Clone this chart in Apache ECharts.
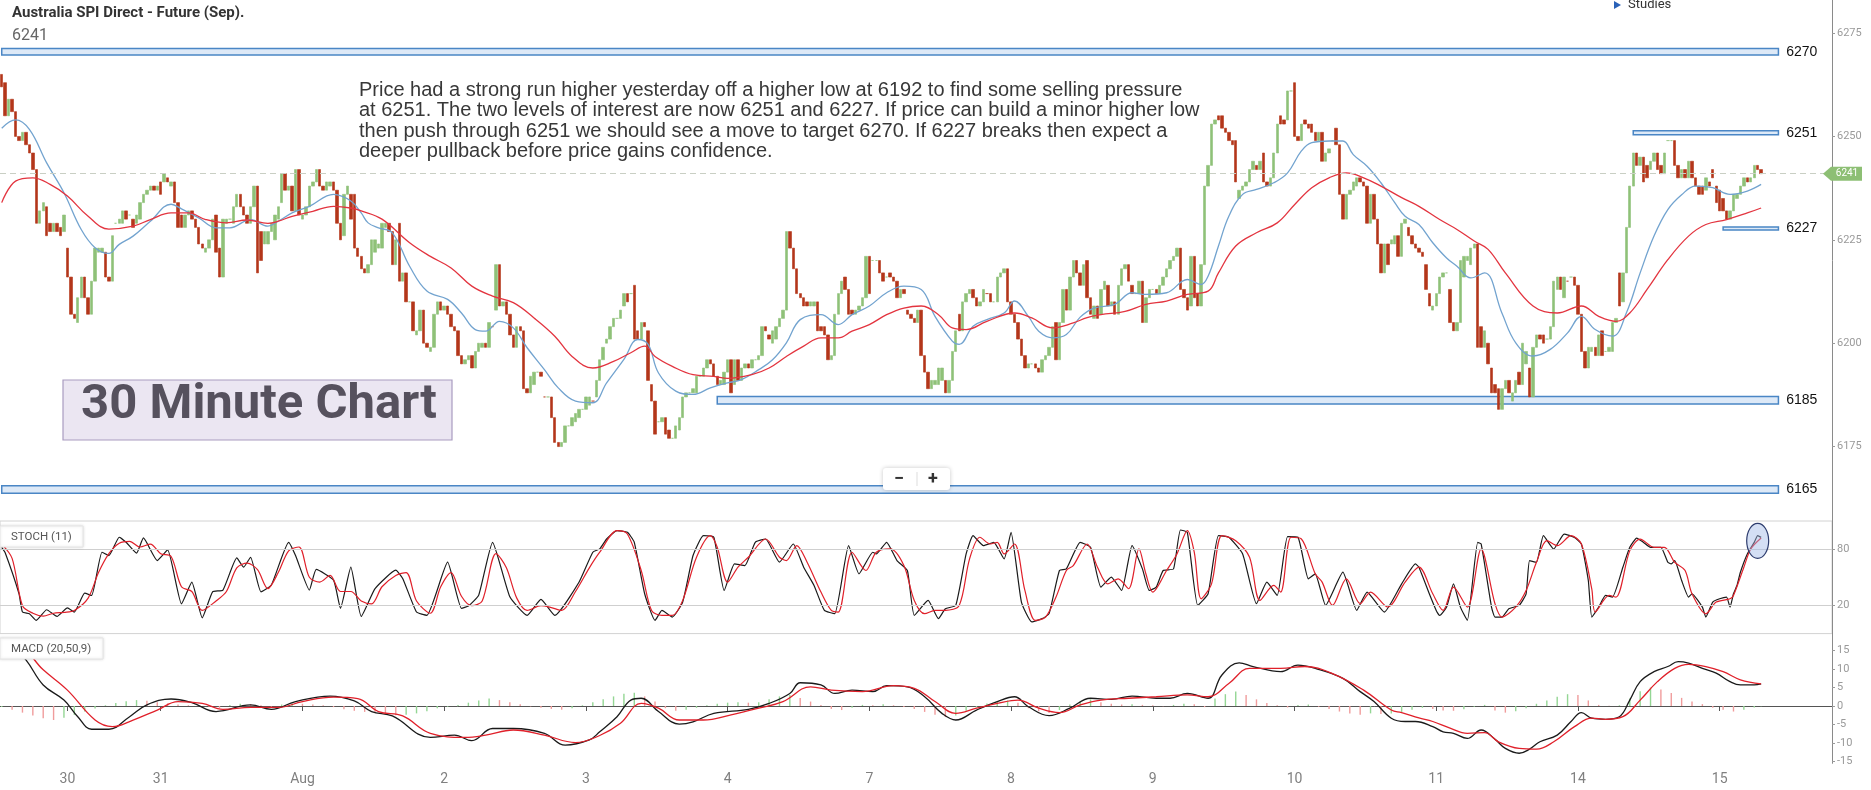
<!DOCTYPE html>
<html><head><meta charset="utf-8">
<script src="https://cdn.jsdelivr.net/npm/echarts@6/dist/echarts.min.js"></script>
<style>html,body{margin:0;padding:0;background:#fff}#c{width:1871px;height:790px}</style>
</head><body><div id="c"></div>
<script>
// ---- price bars: [open, close, low, high] (30 minute bars) ----
const candles = [
[6265,6262,6261,6266],[6263,6255,6254,6265],[6255,6259,6254,6260],[6259,6256,6255,6261],[6256,6250,6248,6257],
[6250,6249,6248,6252],[6249,6251,6247,6253],[6251,6248,6246,6252],[6248,6246,6245,6249],[6246,6242,6241,6247],
[6242,6229,6228,6243],[6229,6232,6225,6234],[6232,6234,6231,6235],[6233,6226,6225,6234],[6229,6227,6225,6230],
[6227,6229,6226,6231],[6229,6227,6225,6231],[6228,6226,6225,6230],[6227,6231,6226,6232],[6223,6216,6215,6223],
[6216,6207,6202,6217],[6207,6206,6202,6209],[6205,6211,6202,6215],[6211,6216,6209,6218],[6216,6211,6209,6217],
[6211,6207,6206,6212],[6207,6215,6206,6216],[6215,6223,6213,6224],[6222,6223,6220,6224],[6222,6223,6221,6224],
[6222,6216,6215,6223],[6216,6215,6214,6217],[6215,6226,6214,6227],[6229,6229,6228,6231],[6229,6230,6228,6232],
[6229,6232,6228,6234],[6232,6230,6229,6233],[6231,6231,6230,6233],[6230,6228,6227,6231],[6229,6231,6228,6233],
[6230,6234,6229,6236],[6234,6236,6233,6238],[6236,6237,6235,6239],[6237,6238,6236,6241],[6238,6237,6236,6239],
[6237,6238,6235,6239],[6239,6236,6234,6240],[6239,6241,6237,6242],[6240,6239,6237,6241],[6238,6239,6237,6240],
[6239,6234,6233,6240],[6234,6228,6227,6235],[6231,6228,6224,6232],[6228,6231,6227,6232],[6231,6232,6230,6233],
[6232,6230,6229,6233],[6230,6228,6227,6231],[6228,6224,6223,6229],[6224,6223,6222,6225],[6222,6223,6221,6224],
[6223,6225,6222,6226],[6225,6230,6224,6231],[6231,6222,6216,6243],[6223,6216,6213,6224],[6216,6230,6213,6231],
[6229,6230,6220,6231],[6230,6230,6229,6232],[6229,6233,6228,6234],[6233,6236,6232,6238],[6236,6233,6232,6237],
[6233,6231,6230,6234],[6231,6229,6226,6232],[6229,6233,6228,6234],[6233,6238,6232,6239],[6238,6217,6216,6239],
[6227,6220,6218,6228],[6224,6227,6223,6228],[6224,6227,6223,6230],[6227,6229,6226,6230],[6225,6231,6224,6232],
[6230,6233,6229,6234],[6234,6241,6233,6242],[6241,6237,6236,6242],[6237,6238,6236,6239],[6238,6232,6231,6239],
[6232,6242,6231,6247],[6242,6231,6230,6247],[6230,6231,6229,6232],[6231,6233,6230,6234],[6233,6238,6232,6239],
[6238,6239,6237,6241],[6239,6242,6238,6243],[6242,6238,6237,6243],[6238,6237,6236,6239],[6237,6239,6236,6240],
[6238,6239,6237,6240],[6239,6237,6236,6240],[6237,6229,6228,6238],[6229,6225,6224,6230],[6226,6236,6225,6237],
[6236,6238,6235,6239],[6236,6230,6229,6242],[6236,6223,6222,6242],[6223,6221,6220,6224],[6221,6218,6215,6222],
[6218,6217,6210,6219],
[6217,6219,6211,6220],[6219,6225,6217,6226],[6222,6225,6220,6227],[6223,6224,6222,6226],[6223,6229,6222,6230],
[6228,6229,6226,6231],[6229,6227,6225,6230],[6227,6219,6217,6228],[6219,6225,6218,6226],[6229,6215,6214,6230],
[6215,6217,6214,6218],[6217,6210,6209,6218],[6210,6210,6208,6211],[6210,6203,6202,6211],[6202,6203,6201,6204],
[6203,6208,6202,6209],[6208,6200,6199,6209],[6200,6199,6198,6201],[6198,6199,6197,6200],[6199,6207,6198,6208],
[6207,6210,6206,6211],[6210,6208,6207,6213],[6208,6209,6207,6210],[6209,6207,6206,6210],[6207,6204,6202,6208],
[6204,6203,6202,6205],[6203,6197,6196,6204],[6197,6195,6194,6198],[6195,6196,6193,6197],[6196,6197,6195,6199],
[6197,6194,6193,6198],[6194,6198,6193,6199],[6198,6200,6197,6201],[6199,6200,6198,6201],[6200,6199,6198,6202],
[6199,6205,6198,6206],[6204,6204,6203,6208],[6208,6219,6207,6220],[6219,6209,6208,6222],[6209,6210,6208,6211],
[6210,6207,6206,6214],[6207,6202,6201,6208],[6202,6199,6196,6203],[6199,6204,6198,6205],[6204,6203,6202,6205],
[6203,6189,6188,6204],[6189,6188,6186,6190],[6188,6192,6186,6193],[6190,6193,6189,6194],[6193,6193,6192,6194],
[6193,6192,6190,6194],[6187,6187,6184,6190],[6187,6187,6185,6188],[6187,6182,6181,6188],[6182,6176,6175,6183],
[6176,6175,6173,6177],[6175,6176,6173,6177],[6176,6180,6175,6181],[6180,6180,6178,6182],[6180,6182,6179,6184],
[6181,6183,6180,6184],[6182,6184,6178,6186],[6184,6184,6183,6186],[6184,6187,6183,6189],[6185,6187,6184,6190],
[6186,6186,6184,6188],[6187,6191,6186,6192],[6191,6196,6190,6197],[6196,6199,6195,6200],[6200,6201,6199,6202],
[6201,6204,6200,6205],[6204,6206,6203,6207],[6206,6206,6205,6207],[6206,6208,6205,6209],[6209,6212,6208,6213],
[6212,6210,6209,6214],[6212,6212,6210,6218],[6214,6201,6200,6219],[6203,6201,6200,6204],[6201,6205,6200,6211],
[6205,6204,6203,6206],[6203,6191,6188,6205],[6190,6186,6185,6191],[6186,6178,6177,6187],[6181,6181,6179,6183],
[6181,6182,6180,6184],[6182,6178,6177,6183],[6179,6177,6176,6180],[6177,6177,6175,6178],[6177,6180,6175,6181],
[6179,6182,6176,6183],[6182,6187,6181,6188],[6187,6188,6186,6189],[6188,6188,6186,6190],[6188,6189,6187,6190],
[6188,6192,6187,6193],[6192,6192,6190,6193],[6192,6194,6191,6195],[6194,6196,6193,6198],[6196,6195,6194,6198],
[6195,6192,6190,6196],[6192,6190,6188,6193],[6190,6191,6187,6193],[6190,6193,6188,6194],[6193,6196,6192,6197],
[6196,6188,6187,6197],[6190,6196,6189,6197],[6196,6191,6190,6197],[6191,6194,6190,6195],[6194,6195,6193,6197],
[6195,6194,6193,6196],[6194,6196,6193,6197],[6196,6196,6195,6198],[6196,6197,6195,6198],[6197,6204,6196,6206],
[6204,6203,6202,6206],[6202,6201,6200,6203],[6200,6203,6189,6204],[6201,6204,6200,6205],[6204,6206,6203,6207],
[6206,6208,6205,6210],[6208,6227,6207,6228],[6227,6223,6222,6230],[6223,6218,6217,6226],[6218,6212,6211,6219],
[6212,6211,6210,6213],[6211,6209,6208,6212],[6210,6209,6207,6211],[6209,6210,6208,6212],[6209,6210,6209,6216],
[6210,6203,6202,6211],[6204,6203,6199,6206],[6204,6202,6199,6205],[6202,6196,6195,6203],[6196,6197,6194,6198],
[6197,6207,6196,6208],[6207,6212,6206,6213],[6212,6215,6211,6218],[6216,6213,6212,6217],[6213,6207,6206,6214],
[6208,6207,6205,6209],[6207,6208,6206,6209],[6208,6209,6207,6210],[6209,6211,6208,6212],[6211,6221,6210,6222],
[6221,6212,6211,6222],[6220,6220,6219,6223],[6220,6220,6219,6222],[6220,6217,6216,6221],[6217,6215,6214,6218],
[6216,6216,6215,6217],[6217,6216,6215,6218],[6216,6215,6214,6217],[6215,6211,6210,6216],[6211,6213,6210,6214],
[6213,6212,6211,6214],[6208,6207,6206,6209],[6207,6206,6204,6208],[6206,6205,6201,6207],[6205,6208,6204,6210],
[6208,6197,6196,6209],[6197,6193,6192,6198],[6193,6189,6186,6194],[6189,6191,6186,6192],[6190,6191,6189,6193],
[6190,6194,6189,6195],[6191,6194,6190,6196],[6191,6188,6187,6192],[6188,6191,6187,6193],[6191,6198,6190,6199],
[6198,6203,6197,6205],[6207,6203,6201,6210],[6203,6210,6202,6211],[6210,6212,6209,6214],[6212,6213,6211,6215],
[6213,6211,6210,6214],[6211,6209,6208,6212],[6209,6210,6208,6211],[6210,6213,6209,6214],[6212,6212,6211,6214],
[6212,6210,6209,6213],[6210,6210,6209,6211],[6210,6216,6209,6217],[6216,6217,6215,6219],[6217,6218,6216,6221],
[6218,6210,6209,6219],[6210,6207,6206,6211],[6207,6205,6200,6208],[6205,6201,6200,6206],[6201,6197,6196,6202],
[6197,6194,6193,6198],[6194,6195,6193,6196],[6195,6195,6194,6196],[6195,6194,6193,6196],[6194,6193,6192,6195],
[6193,6196,6192,6197],[6196,6197,6195,6198],[6197,6199,6196,6200],[6199,6204,6198,6213],[6205,6196,6192,6207],
[6196,6205,6195,6206],[6205,6213,6204,6216],[6213,6208,6206,6214],[6208,6216,6207,6217],[6216,6220,6215,6222],
[6220,6217,6216,6221],[6217,6214,6213,6218],[6214,6219,6213,6220],
[6220,6211,6210,6221],[6211,6207,6203,6212],[6206,6209,6204,6210],[6209,6206,6204,6210],[6207,6213,6206,6215],
[6213,6215,6212,6216],[6214,6209,6208,6215],[6209,6210,6208,6211],[6210,6207,6206,6211],[6207,6214,6206,6215],
[6214,6218,6213,6220],[6218,6219,6217,6220],[6219,6215,6214,6220],[6214,6212,6211,6215],[6212,6212,6210,6213],
[6212,6215,6211,6216],[6215,6205,6204,6216],[6205,6211,6204,6212],[6211,6213,6210,6214],[6213,6213,6212,6214],
[6213,6212,6211,6214],[6212,6214,6211,6215],[6214,6216,6213,6217],[6216,6218,6215,6219],[6218,6220,6217,6221],
[6220,6221,6219,6222],[6221,6223,6220,6224],[6223,6213,6212,6224],[6213,6211,6210,6214],[6211,6208,6207,6212],
[6209,6221,6208,6227],[6221,6211,6210,6227],[6212,6209,6202,6213],[6209,6219,6208,6220],[6219,6238,6218,6239],
[6238,6243,6237,6244],[6243,6253,6242,6254],[6253,6254,6252,6259],[6255,6254,6253,6258],[6255,6252,6251,6257],
[6252,6251,6250,6253],[6251,6249,6248,6252],[6249,6248,6247,6250],[6249,6239,6238,6250],[6235,6237,6234,6238],
[6237,6238,6236,6239],[6238,6239,6237,6240],[6239,6242,6238,6243],[6242,6244,6241,6245],[6243,6242,6241,6244],
[6242,6244,6241,6246],[6246,6239,6237,6248],[6239,6238,6236,6240],[6238,6240,6237,6241],[6240,6246,6239,6247],
[6246,6253,6245,6254],[6255,6253,6252,6256],[6254,6253,6252,6255],[6254,6261,6253,6262],[6261,6261,6260,6265],
[6263,6250,6249,6265],[6250,6249,6248,6251],[6249,6253,6248,6254],[6254,6253,6252,6255],[6253,6252,6251,6254],
[6253,6251,6250,6254],[6251,6249,6248,6252],[6249,6251,6248,6252],[6251,6244,6242,6252],[6244,6246,6243,6247],
[6246,6247,6245,6248],[6249,6249,6247,6258],[6252,6248,6247,6258],[6248,6236,6235,6249],[6236,6230,6227,6237],
[6230,6236,6229,6237],[6236,6237,6235,6238],[6237,6239,6236,6240],[6238,6240,6237,6241],[6240,6239,6238,6241],
[6239,6238,6237,6240],[6238,6229,6227,6239],[6229,6236,6228,6239],[6236,6230,6229,6237],[6230,6224,6223,6231],
[6224,6217,6216,6226],[6217,6224,6215,6225],[6224,6219,6218,6225],[6224,6225,6223,6226],[6224,6226,6223,6228],
[6226,6221,6220,6227],[6221,6229,6220,6230],[6229,6230,6228,6231],[6228,6226,6225,6229],[6226,6224,6223,6227],
[6224,6223,6221,6225],[6223,6222,6220,6224],[6222,6221,6219,6223],[6219,6213,6212,6220],[6212,6209,6208,6213],
[6208,6209,6206,6210],[6209,6212,6208,6213],[6212,6216,6211,6217],
[6216,6217,6215,6218],[6217,6217,6216,6218],[6213,6205,6204,6214],[6205,6203,6202,6206],[6203,6205,6202,6206],
[6205,6220,6204,6221],[6216,6221,6215,6222],[6220,6221,6219,6222],[6219,6223,6218,6224],[6223,6224,6222,6228],
[6224,6199,6198,6228],[6204,6199,6195,6205],[6199,6203,6196,6204],[6200,6195,6194,6201],[6194,6188,6187,6195],
[6190,6188,6186,6191],[6189,6184,6181,6190],[6184,6189,6182,6191],[6189,6191,6188,6192],[6191,6188,6187,6192],
[6186,6188,6181,6190],[6188,6191,6183,6192],[6193,6190,6189,6194],[6190,6200,6189,6201],[6195,6198,6194,6199],
[6194,6187,6186,6195],[6187,6199,6186,6200],[6199,6202,6198,6203],[6202,6201,6200,6203],[6202,6200,6199,6204],
[6201,6201,6200,6202],[6201,6204,6200,6205],[6204,6215,6203,6216],[6213,6216,6212,6217],[6216,6213,6212,6217],
[6211,6216,6210,6217],[6215,6215,6214,6221],[6216,6216,6215,6217],[6216,6214,6213,6217],[6214,6207,6206,6215],
[6207,6198,6197,6208],[6198,6194,6193,6199],[6194,6199,6192,6200],[6198,6199,6197,6200],[6199,6197,6196,6200],
[6197,6202,6196,6203],[6203,6197,6195,6204],[6198,6198,6194,6199],[6198,6199,6197,6200],[6198,6205,6197,6206],
[6205,6206,6204,6207],[6217,6209,6208,6218],[6210,6217,6208,6218],[6217,6228,6216,6229],[6228,6238,6227,6239],
[6238,6246,6237,6247],[6246,6243,6239,6250],[6243,6245,6237,6252],[6245,6239,6237,6253],[6243,6240,6238,6245],
[6242,6244,6238,6245],[6244,6246,6239,6247],[6246,6242,6240,6247],[6243,6241,6239,6244],[6241,6246,6240,6247],
[6249,6249,6248,6251],[6249,6249,6247,6251],[6249,6243,6242,6251],[6243,6240,6239,6244],[6240,6242,6239,6243],
[6242,6240,6239,6243],[6240,6244,6239,6245],[6244,6240,6239,6245],[6240,6238,6237,6241],[6238,6236,6235,6239],
[6238,6236,6235,6239],[6237,6240,6236,6241],[6239,6238,6237,6240],[6242,6240,6239,6242],[6238,6234,6233,6239],
[6237,6232,6230,6238],[6235,6232,6227,6236],[6232,6230,6228,6233],[6230,6232,6229,6233],[6232,6236,6231,6237],
[6235,6236,6235,6237],[6236,6238,6235,6239],[6238,6240,6237,6241],[6240,6239,6238,6241],[6239,6240,6238,6242],
[6240,6243,6239,6244],[6243,6242,6234,6244],[6242,6241,6240,6243]
];

// ---- moving averages: [bar index, value] ----
const maFast = [[0,6252],[4,6254],[8,6251.7],[13,6243.6],[18,6236.4],[23,6227.5],[27,6223.1],[31,6221.7],[34,6223.9],[38,6225.9],[43,6229.5],[49,6233.6],[52,6232.5],[57,6230.3],[62,6227.9],[66,6227.9],[72,6229.9],[77,6228.3],[80,6229.5],[84,6231.5],[89,6233.1],[96,6236],[101,6234.4],[104,6231.5],[106,6229.1],[109,6227.9],[113,6226.7],[118,6218.6],[123,6212.6],[129,6210.6],[133,6207.3],[137,6203.3],[140,6202.9],[144,6205.3],[148,6203.7],[152,6198.9],[157,6193.6],[161,6189.2],[166,6186],[171,6185.6],[175,6190.4],[180,6196.1],[184,6200.9],[187,6199.7],[190,6192.8],[195,6188.4],[200,6187.6],[205,6189.2],[210,6190.4],[214,6191.2],[219,6193.6],[223,6196],[227,6200.1],[231,6205.7],[237,6206.9],[242,6204.5],[246,6206.9],[251,6209],[256,6212.2],[261,6213.8],[266,6213],[270,6206.5],[275,6200.5],[277,6199.7],[281,6204.1],[285,6205.7],[290,6207.3],[293,6210.2],[297,6206.5],[300,6202.9],[304,6201.3],[308,6202.1],[312,6206.3],[316,6208.5],[322,6209.4],[327,6212.2],[331,6211.8],[337,6212.2],[343,6215.4],[347,6214.2],[349,6216.2],[352,6223.5],[355,6230.7],[359,6236],[363,6237.2],[368,6238.8],[372,6241.2],[376,6246.5],[379,6248.5],[384,6248.9],[388,6248.9],[391,6245.6],[395,6242.8],[399,6238.8],[403,6234],[406,6230.7],[410,6228.7],[414,6224.3],[418,6220.6],[421,6218.6],[425,6215.8],[429,6217],[434,6207.3],[438,6200.1],[443,6196.9],[448,6198.5],[453,6202.5],[457,6206.5],[461,6203.3],[466,6201.7],[470,6207.3],[474,6217],[478,6225.9],[482,6232.3],[486,6235.9],[490,6238],[495,6237.6],[500,6236],[505,6236.8],[509,6238.4]];
const maSlow = [[0,6234],[4,6239.2],[9,6240],[14,6238.4],[19,6235.6],[25,6230.7],[31,6227.6],[38,6228.3],[43,6229.9],[49,6231.5],[54,6231.5],[59,6229.9],[65,6229.1],[71,6229.8],[77,6229],[80,6229.5],[84,6230.7],[90,6231.9],[96,6233.1],[101,6232.7],[104,6232],[110,6230],[118,6224.3],[124,6221],[130,6218.2],[136,6213.8],[142,6211.4],[148,6209.8],[154,6206.1],[160,6201.7],[165,6196.8],[171,6194],[177,6195.6],[182,6197.7],[186,6199.3],[189,6196.8],[194,6194.4],[200,6192.4],[206,6192],[210,6191.5],[217,6192.4],[222,6194],[227,6196.8],[232,6199.3],[237,6201.3],[242,6201.3],[246,6202.9],[251,6204.5],[256,6206.9],[261,6208.5],[266,6209],[271,6206.9],[275,6203.7],[279,6203.3],[285,6205.3],[293,6207.3],[298,6206.1],[304,6203.7],[310,6204.9],[314,6206.2],[318,6206.9],[325,6207.7],[331,6209.4],[337,6210.2],[343,6211.8],[349,6212.6],[352,6217],[357,6223.5],[363,6226.7],[369,6229.1],[374,6233.5],[379,6237.6],[384,6240],[389,6241.2],[394,6240],[399,6238],[405,6235.2],[410,6233.1],[416,6229.9],[421,6227.5],[426,6224.7],[430,6222.7],[435,6217],[443,6209],[450,6207.3],[457,6209],[462,6206.5],[467,6205.3],[471,6207.3],[476,6213],[482,6220.2],[488,6225.9],[493,6228.7],[499,6229.9],[505,6231.5],[509,6232.7]];

// ---- stochastic (11) ----
const stochK = [[0,81.7],[1,76],[5,32.6],[6,13.3],[8,11.5],[10,4.5],[13,15.7],[16,8.6],[19,17.7],[21,13.2],[24,33.2],[26,30.8],[29,76.5],[31,73],[34,92.3],[36,87],[39,75.5],[41,91.6],[45,67.7],[48,78.9],[52,22],[55,44.8],[58,7.2],[61,34.7],[64,36.5],[68,70.5],[70,60.7],[72,71.2],[75,34.7],[78,41.8],[83,87],[85,73],[89,36.5],[91,58.3],[96,47],[98,17.2],[101,60.7],[104,8.6],[108,38],[114,57.5],[116,48.8],[120,13.3],[123,9.8],[129,66],[133,17.2],[135,19.6],[138,31.2],[142,87],[147,29.4],[152,9.8],[156,26.6],[160,9.8],[167,44.8],[171,76.5],[173,80],[175,90.5],[178,99.3],[181,97.5],[183,87],[186,32.6],[189,4.5],[191,15],[194,8],[197,23.8],[200,73],[203,94],[206,92.3],[209,36.1],[212,64.2],[215,62.4],[218,87],[221,90.5],[225,66],[229,85.2],[232,60.7],[235,41.4],[238,15],[241,11.6],[245,83.5],[248,53.7],[252,76.5],[253,74.7],[256,87],[259,67.7],[262,57.2],[264,9.8],[268,25.6],[271,6.3],[273,16.8],[276,20.3],[279,74.7],[281,94],[284,83.5],[287,87],[290,69.5],[292,97.5],[295,23.8],[298,2.8],[301,6.3],[303,11.6],[306,57.2],[308,58.9],[312,87],[315,81.7],[318,39.6],[321,50.2],[324,36.1],[327,83.5],[330,58.9],[332,36.1],[334,39.6],[336,57.2],[339,58.9],[341,100],[343,97.5],[346,20.3],[349,32.6],[352,94],[355,92.3],[359,74.7],[363,22.1],[366,44.9],[369,30.9],[372,93],[375,92.3],[378,48.4],[380,53.7],[383,20.3],[388,55.4],[392,15],[395,34.4],[400,13.3],[405,43.1],[409,64.1],[410,60.6],[413,32.6],[415,15],[416,9.7],[418,18.5],[420,43.1],[422,18.5],[424,4.5],[427,86.9],[428,85.2],[431,18.5],[432,8],[434,8],[436,16.8],[439,20.3],[441,32.6],[442,67.6],[444,65.9],[446,94],[449,79.9],[452,95.7],[455,92.2],[457,85.2],[459,46.6],[460,8],[462,18.5],[464,30.8],[466,29.1],[469,60.6],[471,81.7],[473,91.5],[475,86.9],[477,81.7],[480,81.7],[482,65.9],[483,64.1],[484,67.6],[486,46.6],[488,29.1],[489,32.6],[492,18.5],[493,8],[495,23.8],[497,27.3],[499,29.1],[500,18.5],[501,32.6],[502,41.3],[503,55.4],[505,74.7],[507,86.9],[508,94],[509,92.2]];
const stochD = [[0,85],[3,70],[6,20],[9,12],[12,9],[15,12],[18,13],[21,15],[25,28],[28,55],[31,75],[34,86],[37,88],[40,82],[43,85],[46,75],[49,72],[52,40],[55,35],[58,15],[62,25],[65,35],[68,60],[71,65],[74,58],[77,38],[80,55],[83,78],[86,82],[89,50],[92,45],[95,52],[98,35],[101,35],[104,25],[107,22],[110,40],[114,52],[117,55],[120,25],[124,12],[127,40],[130,55],[133,30],[136,20],[139,25],[143,75],[146,60],[149,28],[152,15],[156,20],[159,18],[162,15],[166,35],[170,60],[173,76.5],[178,99.3],[181,95.8],[185,57.2],[188,15],[191,9.8],[194,9.8],[197,25.6],[201,71.2],[205,94],[207,81.7],[210,44.9],[213,60.7],[216,71.2],[221,90.5],[225,71.2],[227,67.7],[230,83.5],[233,66],[237,34.4],[240,15],[242,13.3],[246,76.5],[250,57.2],[253,76.5],[257,80],[261,62.4],[264,25.6],[267,11.6],[270,15],[273,15],[277,20.3],[280,69.5],[283,92.3],[286,85.2],[288,87],[290,74.7],[293,85.2],[296,36.1],[299,4.5],[302,8],[305,29.1],[308,57.2],[310,62.4],[314,85.2],[317,60.7],[320,43.1],[323,48.4],[326,37.9],[329,80],[331,53.7],[333,34.4],[337,57.2],[340,74.7],[343,99.3],[345,76.5],[347,27.3],[350,43.1],[353,94],[357,88.7],[361,71.2],[364,25.6],[368,41.4],[370,34.4],[373,92.3],[376,90.5],[380,53.7],[382,44.9],[385,20.3],[389,48.4],[393,22.1],[396,34.4],[401,18.6],[406,44.9],[410,60.7],[414,32.6],[417,15],[420,39.6],[424,18.5],[428,79.9],[432,22],[434,8],[438,18.5],[441,36],[444,65.9],[447,88.7],[450,83.4],[454,94],[457,85.2],[460,37.8],[461,13.3],[465,30.8],[467,29.1],[471,78.2],[474,90.4],[478,81.7],[481,81.7],[484,65.9],[487,57.1],[489,32.6],[493,11.5],[496,23.8],[500,27.3],[501,30.8],[504,60.6],[506,79.9],[509,91.5]];

// ---- MACD (20,50,9) ----
const macdLine = [[0,17.2],[3,16.1],[7,12.5],[12,5.7],[18,1.6],[22,-2.9],[26,-6.3],[31,-6.3],[37,-2.9],[42,0.3],[49,1.9],[55,0.9],[62,-1.5],[72,0.3],[78,-0.9],[85,1.2],[95,2.7],[102,1.4],[107,-1.5],[113,-2.7],[124,-8.5],[131,-7.9],[136,-9.4],[142,-6.1],[148,-6.1],[157,-7.4],[163,-10.6],[170,-9.2],[173,-7],[178,-2.9],[182,1.6],[185,2.1],[190,-1.5],[196,-4.9],[200,-4.3],[206,-2],[216,-0.9],[222,0.7],[228,3.4],[231,6.3],[237,5.7],[241,3.4],[246,4.3],[252,3.9],[256,5.5],[262,5.2],[267,2.5],[272,-2],[276,-3.8],[282,-1.1],[288,1.2],[293,2.5],[297,-0.2],[303,-2.6],[309,-0.6],[315,2.1],[321,1.8],[327,2.7],[334,2.1],[338,2.1],[343,3.4],[349,2.1],[353,8.4],[358,11.7],[362,10.7],[370,9.3],[375,11.1],[380,10.2],[388,7.5],[393,3.9],[397,1.2],[402,-3.3],[406,-4.2],[409,-4.2],[414,-5.6],[417,-7],[420,-7.4],[424,-8.8],[428,-6.5],[432,-9],[435,-11.5],[439,-12.8],[442,-11.7],[445,-9.7],[450,-7.9],[454,-4.2],[457,-1.8],[460,-3.3],[464,-3.6],[468,-2.9],[471,1.6],[474,6.6],[478,9.3],[482,10.7],[485,12],[488,11.6],[492,10.2],[496,8.9],[500,6.6],[503,5.7],[507,5.7],[509,6]];
const macdSignal = [[0,16.5],[5,16.1],[12,9.8],[19,4.3],[27,-3.8],[32,-5.6],[38,-3.8],[45,-1.1],[51,1.2],[58,0.7],[64,-0.9],[72,-0.4],[80,-0.4],[87,1.2],[96,2.4],[103,2],[109,-1.5],[116,-2.7],[124,-7.4],[134,-8.5],[140,-7.9],[148,-6.5],[157,-7.9],[166,-9.9],[173,-8],[179,-4.7],[185,0.7],[190,-0.6],[196,-3.8],[203,-3.8],[211,-2.4],[219,-0.6],[226,1.2],[234,5.2],[240,4.3],[249,3.9],[258,5.5],[264,4.8],[270,1.2],[276,-2],[282,-0.6],[288,0.7],[294,1.6],[300,-0.6],[306,-1.8],[312,0.3],[318,1.6],[326,2.1],[334,2.5],[343,3],[349,2.5],[355,6.1],[361,10.2],[370,10.2],[377,10.7],[385,8.8],[394,4.3],[402,-1.1],[405,-1.8],[410,-3.2],[414,-4.2],[419,-6],[424,-7.4],[429,-7.2],[433,-9.7],[439,-11.5],[444,-11.7],[449,-9.7],[455,-5.6],[460,-3.3],[464,-3.6],[469,-2.9],[474,1.6],[479,6.6],[484,10.2],[488,11.3],[493,10.7],[498,9.3],[503,7.1],[509,6]];
const macdHist = [[0,-0.3],[3,-1],[6,-1.8],[9,-2.6],[12,-3.3],[15,-3.8],[18,-3.2],[21,-2.4],[24,-1.5],[27,-0.7],[30,0.2],[33,0.8],[36,1.3],[39,1.6],[42,1.4],[45,1.0],[48,0.7],[51,0.4],[54,0.2],[57,0.1],[60,-0.2],[63,-0.5],[66,0.3],[69,0.6],[72,0.5],[75,0.2],[78,-0.2],[81,0.4],[84,0.7],[87,0.6],[90,0.4],[93,0.2],[96,-0.3],[99,-0.9],[102,-1.3],[105,-1.6],[108,-1.9],[111,-2.2],[114,-2.5],[117,-2.4],[120,-2.0],[123,-1.4],[126,-0.6],[129,-0.2],[132,0.3],[135,0.9],[138,1.5],[141,2.0],[144,1.6],[147,1.0],[150,0.5],[153,-0.1],[156,-0.5],[159,-0.8],[162,-1.0],[165,-0.6],[168,0.2],[171,1.0],[174,1.8],[177,2.6],[180,3.3],[183,3.6],[186,2.6],[189,1.2],[192,-0.6],[195,-1.3],[198,-1.0],[201,-0.5],[204,0.2],[207,0.6],[210,0.9],[213,1.0],[216,0.9],[219,1.0],[222,1.8],[225,2.6],[228,3.0],[231,2.2],[234,1.2],[237,0.3],[240,-0.8],[243,-1.1],[246,-0.5],[249,0.3],[252,0.2],[255,0.5],[258,0.2],[261,-0.3],[264,-0.8],[267,-1.6],[270,-2.4],[273,-3.0],[276,-2.6],[279,-1.3],[282,-0.3],[285,0.7],[288,1.2],[291,1.5],[294,0.9],[297,-0.6],[300,-1.4],[303,-1.9],[306,-1.1],[309,0.4],[312,1.3],[315,1.8],[318,1.0],[321,0.6],[324,0.4],[327,0.5],[330,0.3],[333,0.2],[336,-0.1],[339,0.3],[342,0.6],[345,0.5],[348,-0.3],[351,2.0],[354,3.2],[357,3.9],[360,3.0],[363,1.8],[366,0.8],[369,0.2],[372,-0.4],[375,0.3],[378,0.4],[381,-0.2],[384,-0.8],[387,-1.5],[390,-2.0],[393,-2.4],[396,-2.0],[399,-2.2],[402,-2.0],[405,-1.6],[408,-1.0],[411,-0.5],[414,-0.8],[417,-1.2],[420,-1.3],[423,-0.9],[426,-0.2],[429,0.3],[432,-1.2],[435,-1.8],[438,-1.4],[441,-0.6],[444,0.6],[447,1.5],[450,2.5],[453,3.2],[456,3.0],[459,1.5],[462,0.3],[465,0.1],[468,0.2],[471,2.0],[474,4.0],[477,5.0],[480,4.5],[483,3.5],[486,2.2],[489,1.2],[492,0.5],[495,-0.5],[498,-1.0],[501,-1.5],[504,-1.0],[507,-0.4],[509,-0.1]];

// ---- axis / annotation values ----
const dayLabels = ['30','31','Aug','2','3','4','7','8','9','10','11','14','15'];
const dayIndex  = [19,46,87,128,169,210,251,292,333,374,415,456,497];
const priceTicks = [6175,6200,6225,6250,6275];
const stochTicks = [20,80];
const macdTicks = [-15,-10,-5,0,5,10,15];
const levelNames = ['6270','6251','6227','6185','6165'];
const levelLow   = [6269.7,6250.4,6227.4,6185.3,6163.7];
const levelHigh  = [6271.3,6251.4,6228.1,6187.1,6165.5];
const levelFrom  = [0,472,498,207,0];
const levelTo = 514;
const lastPrice = 6241;
const totalSlots = 530;
const titleText = 'Australia SPI Direct - Future (Sep).';
const noteText = 'Price had a strong run higher yesterday off a higher low at 6192 to find some selling pressure\nat 6251. The two levels of interest are now 6251 and 6227. If price can build a minor higher low\nthen push through 6251 we should see a move to target 6270. If 6227 breaks then expect a\ndeeper pullback before price gains confidence.';

// ---- build ----
const cats = Array.from({length: totalSlots}, (_, i) => String(i));
const labelOf = {}; dayIndex.forEach((d, k) => labelOf[d] = dayLabels[k]);
const isDay = (idx) => labelOf[idx] !== undefined;
const bodies = candles.map(r => [r[0], r[1], Math.min(r[0], r[1]), Math.max(r[0], r[1])]);
const wicks = candles.map(r => [r[2], r[3], r[2], r[3]]);

const chart = echarts.init(document.getElementById('c'), null, {renderer: 'canvas'});
const font = 'Roboto, "Liberation Sans", sans-serif';
const axisRight = (gi, min, max, ticks) => ({
  type: 'value', gridIndex: gi, position: 'right', min: min, max: max, scale: true,
  axisLine: {show: true, lineStyle: {color: '#8a8a8a', width: 1}},
  axisTick: {show: true, length: 3, customValues: ticks, lineStyle: {color: '#9a9a9a'}},
  axisLabel: {show: true, customValues: ticks, formatter: (v) => String(v), color: '#9a9a9a', fontSize: 11, margin: 5, fontFamily: font},
  splitLine: {show: false}
});
const catAxis = (gi, show) => ({
  type: 'category', gridIndex: gi, data: cats, boundaryGap: true, show: show,
  axisLine: {show: show, lineStyle: {color: '#555', width: 1}},
  axisTick: {show: show, alignWithLabel: true, interval: (i) => isDay(i), length: 5, lineStyle: {color: '#555'}},
  axisLabel: {show: show, interval: (i) => isDay(i), formatter: (v, i) => labelOf[i] || '', color: '#808080', fontSize: 14, margin: 9, fontFamily: font},
  splitLine: {show: false}
});

const levelAreas = levelNames.map((n, k) => [
  {xAxis: levelFrom[k], yAxis: levelLow[k], name: n},
  {xAxis: levelTo, yAxis: levelHigh[k]}
]);

chart.setOption({
  animation: false,
  backgroundColor: '#ffffff',
  grid: [
    {left: 0, width: 1832, top: 0, height: 521},
    {left: 0, width: 1832, top: 521, height: 112.6, show: true, borderColor: '#d2d2d2', borderWidth: 1, backgroundColor: 'transparent'},
    {left: 0, width: 1832, top: 633.6, height: 129.7}
  ],
  xAxis: [catAxis(0, false), catAxis(1, false), catAxis(2, true)],
  yAxis: [axisRight(0, 6157, 6283, priceTicks), axisRight(1, -9.5, 109.5, stochTicks), axisRight(2, -15.53, 19.62, macdTicks)],
  series: [
    {type: 'candlestick', name: 'wick', xAxisIndex: 0, yAxisIndex: 0, data: wicks, barWidth: 1.1, silent: true,
     itemStyle: {color: '#262626', color0: '#262626', borderColor: '#262626', borderColor0: '#262626', borderWidth: 0}},
    {type: 'candlestick', name: 'body', xAxisIndex: 0, yAxisIndex: 0, data: bodies, barWidth: 2.9, silent: true,
     itemStyle: {color: '#8fc178', color0: '#b3361a', borderColor: '#8fc178', borderColor0: '#b3361a', borderWidth: 0.6},
     markLine: {silent: true, symbol: 'none', label: {show: false},
       lineStyle: {type: [6, 4], color: '#c9cfc4', width: 1.2}, data: [{yAxis: lastPrice}]},
     markArea: {silent: true,
       itemStyle: {color: '#dde9f7', borderColor: '#4a86c5', borderWidth: 1.5},
       label: {show: true, position: 'right', distance: 7, color: '#111', fontSize: 14, fontFamily: '"Liberation Sans", Arial, sans-serif'},
       data: levelAreas}},
    {type: 'line', name: 'fast', xAxisIndex: 0, yAxisIndex: 0, data: maFast, smooth: 0.4, symbol: 'none', silent: true,
     lineStyle: {color: '#72a3cf', width: 1.3}},
    {type: 'line', name: 'slow', xAxisIndex: 0, yAxisIndex: 0, data: maSlow, smooth: 0.4, symbol: 'none', silent: true,
     lineStyle: {color: '#e3343f', width: 1.3}},
    {type: 'line', name: 'K', xAxisIndex: 1, yAxisIndex: 1, data: stochK, smooth: 0.15, symbol: 'none', silent: true,
     lineStyle: {color: '#1a1a1a', width: 1.2},
     markLine: {silent: true, symbol: 'none', label: {show: false}, lineStyle: {type: 'solid', color: '#cfcfcf', width: 1},
       data: [{yAxis: 80}, {yAxis: 20}]}},
    {type: 'line', name: 'D', xAxisIndex: 1, yAxisIndex: 1, data: stochD, smooth: 0.3, symbol: 'none', silent: true,
     lineStyle: {color: '#e0202a', width: 1.2}},
    {type: 'bar', name: 'hist', xAxisIndex: 2, yAxisIndex: 2, data: macdHist, barWidth: 1.4, silent: true,
     itemStyle: {color: (p) => { const k = p.dataIndex; const v = macdHist[k][1]; const pv = k > 0 ? macdHist[k - 1][1] : v; return v >= pv ? '#94d694' : '#f09c9c'; }}},
    {type: 'line', name: 'macd', xAxisIndex: 2, yAxisIndex: 2, data: macdLine, smooth: 0.4, symbol: 'none', silent: true,
     lineStyle: {color: '#1a1a1a', width: 1.3}},
    {type: 'line', name: 'signal', xAxisIndex: 2, yAxisIndex: 2, data: macdSignal, smooth: 0.4, symbol: 'none', silent: true,
     lineStyle: {color: '#e0202a', width: 1.3}}
  ],
  graphic: [
    {type: 'text', x: 12, y: 13, z: 50, style: {text: titleText, font: 'bold 15px ' + font, fill: '#333', textVerticalAlign: 'middle'}},
    {type: 'text', x: 12, y: 36, z: 50, style: {text: String(lastPrice), font: '16px ' + font, fill: '#666', textVerticalAlign: 'middle'}},
    {type: 'polygon', z: 50, shape: {points: [[1614, 1], [1621, 5], [1614, 9]]}, style: {fill: '#2a62b8'}},
    {type: 'text', x: 1628, y: 5, z: 50, style: {text: 'Studies', font: '13px ' + font, fill: '#333', textVerticalAlign: 'middle'}},
    {type: 'text', x: 359, y: 80, z: 50, style: {text: noteText, font: '20px "Liberation Sans", Arial, sans-serif', lineHeight: 20.5, fill: '#383838', textVerticalAlign: 'top'}},
    {type: 'rect', z: 50, shape: {x: 63, y: 380, width: 389, height: 60}, style: {fill: '#ebe6f2', stroke: '#a99cc0', lineWidth: 1.2}},
    {type: 'text', x: 259, y: 406, z: 51, style: {text: '30 Minute Chart', font: 'bold 49px ' + font, fill: '#56515e', textAlign: 'center', textVerticalAlign: 'middle'}},
    {type: 'rect', z: 50, shape: {x: 883, y: 468, width: 67, height: 22, r: 3}, style: {fill: '#fff', shadowBlur: 4, shadowColor: 'rgba(0,0,0,0.22)'}},
    {type: 'line', z: 51, shape: {x1: 917, y1: 472, x2: 917, y2: 486}, style: {stroke: '#dddddd', lineWidth: 1}},
    {type: 'text', x: 899, y: 479, z: 51, style: {text: '\u2212', font: 'bold 18px ' + font, fill: '#333', textAlign: 'center', textVerticalAlign: 'middle'}},
    {type: 'text', x: 933, y: 479, z: 51, style: {text: '+', font: 'bold 18px ' + font, fill: '#333', textAlign: 'center', textVerticalAlign: 'middle'}},
    {type: 'rect', z: 50, shape: {x: 0, y: 526, width: 83, height: 21}, style: {fill: '#fff', stroke: '#e4e4e4', lineWidth: 1, shadowBlur: 3, shadowColor: 'rgba(0,0,0,0.12)'}},
    {type: 'text', x: 11, y: 536.7, z: 51, style: {text: 'STOCH (11)', font: '11.5px ' + font, fill: '#555', textVerticalAlign: 'middle'}},
    {type: 'rect', z: 50, shape: {x: 0, y: 638, width: 103, height: 21}, style: {fill: '#fff', stroke: '#e4e4e4', lineWidth: 1, shadowBlur: 3, shadowColor: 'rgba(0,0,0,0.12)'}},
    {type: 'text', x: 11, y: 649, z: 51, style: {text: 'MACD (20,50,9)', font: '11.5px ' + font, fill: '#555', textVerticalAlign: 'middle'}}
  ]
});

// price tag and stochastic highlight positioned through the chart's own scales
const ty = chart.convertToPixel({yAxisIndex: 0}, lastPrice);
const ep = chart.convertToPixel({gridIndex: 1}, [508, 88.5]);
chart.setOption({graphic: [
  {type: 'polygon', z: 60, shape: {points: [[1823, ty], [1831, ty - 7], [1862, ty - 7], [1862, ty + 7], [1831, ty + 7]]}, style: {fill: '#8dbf74'}},
  {type: 'text', x: 1847, y: ty, z: 61, style: {text: String(lastPrice), font: '10px ' + font, fill: '#fff', textAlign: 'center', textVerticalAlign: 'middle'}},
  {type: 'ellipse', z: 60, shape: {cx: ep[0], cy: ep[1], rx: 11, ry: 17.5}, style: {fill: 'rgba(160,185,230,0.45)', stroke: '#2e3d6e', lineWidth: 1.2}}
].map((e, k) => Object.assign({id: 'extra' + k}, e))});
</script>
</body></html>
